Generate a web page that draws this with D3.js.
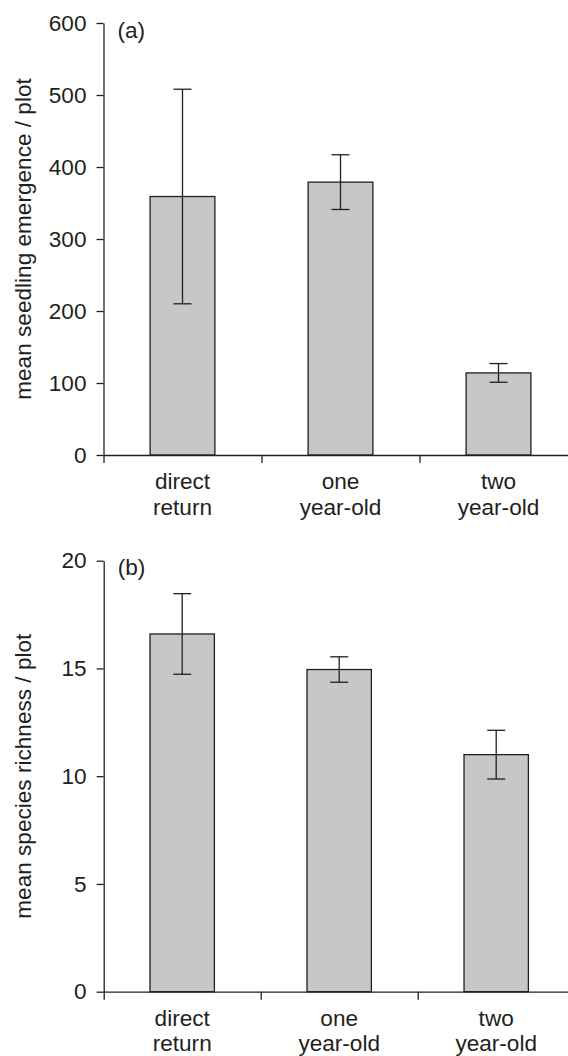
<!DOCTYPE html>
<html>
<head>
<meta charset="utf-8">
<script src="https://cdn.jsdelivr.net/npm/d3@7"></script>
<style>
  body { margin: 0; background: #fff; }
  svg text { font-family: "Liberation Sans", Arial, Helvetica, sans-serif; fill: #231f20; }
</style>
</head>
<body>
<svg id="chart" width="568" height="1056"></svg>
<script>
'use strict';

// categories (two text lines each)
var categories = ['direct\nreturn', 'one\nyear-old', 'two\nyear-old'];

// (a) seedling emergence
var emergenceMean = [359, 379, 114];
var emergenceErr = [149, 38, 13];
var emergenceTicks = [0, 100, 200, 300, 400, 500, 600];

// (b) species richness
var richnessMean = [16.6, 14.95, 11.0];
var richnessErr = [1.87, 0.59, 1.13];
var richnessTicks = [0, 5, 10, 15, 20];

var ink = '#231f20';
var barFill = '#c6c7c9';
var fontSize = '22.6px';

var svg = d3.select('#chart');

function drawPanel(opt) {
  var g = svg.append('g');

  var y = d3.scaleLinear()
      .domain([0, opt.ticks[opt.ticks.length - 1]])
      .range([opt.bottom, opt.top]);

  var x = d3.scaleBand()
      .domain(categories)
      .range([opt.left, opt.left + 3 * opt.step])
      .padding(0);

  // boundaries between categories carry the x ticks
  var xEdge = d3.scaleLinear()
      .domain([0, 3])
      .range([opt.left, opt.left + 3 * opt.step]);

  var barW = x.bandwidth() * 0.41;
  var capW = 18;

  var bars = categories.map(function(c, i) {
    return { key: c, value: opt.values[i], err: opt.errors[i] };
  });

  // bars
  g.selectAll('rect.bar')
      .data(bars)
    .enter().append('rect')
      .attr('class', 'bar')
      .attr('x', function(d) { return x(d.key) + (x.bandwidth() - barW) / 2; })
      .attr('y', function(d) { return y(d.value); })
      .attr('width', barW)
      .attr('height', function(d) { return y(0) - y(d.value); })
      .attr('fill', barFill)
      .attr('stroke', ink)
      .attr('stroke-width', 1.3);

  // error bars
  var eb = g.selectAll('g.err')
      .data(bars)
    .enter().append('g')
      .attr('class', 'err')
      .attr('stroke', ink)
      .attr('stroke-width', 1.3);

  eb.append('line')
      .attr('x1', function(d) { return x(d.key) + x.bandwidth() / 2; })
      .attr('x2', function(d) { return x(d.key) + x.bandwidth() / 2; })
      .attr('y1', function(d) { return y(d.value + d.err); })
      .attr('y2', function(d) { return y(d.value - d.err); });

  [1, -1].forEach(function(s) {
    eb.append('line')
        .attr('x1', function(d) { return x(d.key) + x.bandwidth() / 2 - capW / 2; })
        .attr('x2', function(d) { return x(d.key) + x.bandwidth() / 2 + capW / 2; })
        .attr('y1', function(d) { return y(d.value + s * d.err); })
        .attr('y2', function(d) { return y(d.value + s * d.err); });
  });

  // y axis
  var yAxis = g.append('g')
      .attr('transform', 'translate(' + opt.left + ',0)')
      .call(d3.axisLeft(y)
        .tickValues(opt.ticks)
        .tickSize(7)
        .tickSizeOuter(0)
        .tickPadding(10));

  // x axis
  var xAxis = g.append('g')
      .attr('transform', 'translate(0,' + opt.bottom + ')')
      .call(d3.axisBottom(xEdge)
        .tickValues([0, 1, 2])
        .tickSize(8)
        .tickSizeOuter(0)
        .tickFormat(''));

  [yAxis, xAxis].forEach(function(a) {
    a.selectAll('path, line').attr('stroke', ink).attr('stroke-width', 1.3);
    a.selectAll('text').style('font-size', fontSize).attr('fill', ink);
  });

  // category labels
  var lab = g.selectAll('text.cat')
      .data(categories)
    .enter().append('text')
      .attr('class', 'cat')
      .attr('text-anchor', 'middle')
      .style('font-size', fontSize);

  lab.selectAll('tspan')
      .data(function(d) { return d.split('\n').map(function(t) { return { t: t, c: d }; }); })
    .enter().append('tspan')
      .attr('x', function(d) { return x(d.c) + x.bandwidth() / 2; })
      .attr('y', function(d, i) { return opt.bottom + 34 + i * 25.7; })
      .text(function(d) { return d.t; });

  // panel letter
  g.append('text')
      .attr('x', opt.left + 14)
      .attr('y', opt.top + 14.5)
      .style('font-size', fontSize)
      .text(opt.letter);

  // y title
  g.append('text')
      .attr('transform', 'translate(31,' + ((opt.top + opt.bottom) / 2) + ') rotate(-90)')
      .attr('text-anchor', 'middle')
      .style('font-size', fontSize)
      .text(opt.title);
}

drawPanel({
  letter: '(a)',
  title: 'mean seedling emergence / plot',
  values: emergenceMean,
  errors: emergenceErr,
  ticks: emergenceTicks,
  left: 103.5,
  step: 158,
  top: 23,
  bottom: 455
});

drawPanel({
  letter: '(b)',
  title: 'mean species richness / plot',
  values: richnessMean,
  errors: richnessErr,
  ticks: richnessTicks,
  left: 103.7,
  step: 157,
  top: 560.7,
  bottom: 991.7
});
</script>
</body>
</html>
